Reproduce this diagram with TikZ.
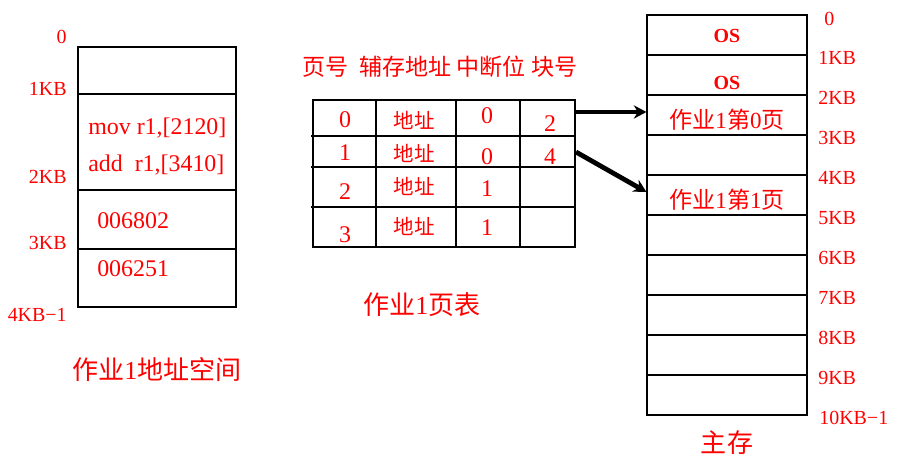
\documentclass[tikz,border=0pt]{standalone}
\usepackage{fontspec}
\setmainfont{Liberation Serif}
\newfontfamily\cjk{Noto Sans CJK SC}
\newcommand\hz[1]{{\cjk #1}}
\usetikzlibrary{arrows.meta}
\tikzset{
  >={Stealth[length=9pt,width=9.5pt]},
  frame/.style={draw=black, line width=0.8pt},
  blk/.style={frame, minimum width=4cm, minimum height=1cm, inner sep=0pt},
  lbl/.style={text=red, inner sep=0pt, font=\fontsize{14.2}{16}\selectfont},
  code/.style={text=red, inner sep=0pt, font=\fontsize{17}{19}\selectfont},
  zh/.style={text=red, inner sep=0pt, font=\fontsize{16.4}{18}\selectfont},
  title/.style={text=red, inner sep=0pt, font=\fontsize{18.5}{20}\selectfont},
  pointer/.style={->, line width=3.4pt},
}
\begin{document}
\begin{tikzpicture}[x=0.025cm,y=-0.025cm]
\useasboundingbox (0,0) rectangle (904,464);
% job 1 address space
\draw[frame] (78,47) rectangle (236,307);
\foreach \y in {94,190,249}
  \draw[frame] (78,\y) -- (236,\y);
\foreach \y/\t [count=\i] in {37/0,89/1KB,177/2KB,243/3KB,315/4KB−1}
  \node[lbl, anchor=east] (la\i) at (67,\y) {\t};
\node[code, anchor=west] (mov) at (88,128) {mov r1,[2120]};
\node[code, anchor=west] (add) at (88,165) {add\ \ r1,[3410]};
\node[code, anchor=west] (d1) at (97,221) {006802};
\node[code, anchor=west] (d2) at (97,269) {006251};
\node[title] (space) at (157,370) {\hz{作业}1\hz{地址空间}};

% page table
\node[zh] (head) at (440,67) {\hz{页号\ \ 辅存地址\ 中断位\ 块号}};
\draw[frame] (313,100) rectangle (575,247);
\foreach \x in {376,456,520}
  \draw[frame] (\x,100) -- (\x,247);
\foreach \y in {136,167,207}
  \draw[frame] (311,\y) -- (575,\y);
\foreach \y/\t [count=\i] in {120/0,153/1,192/2,235/3}
  \node[code] (pg\i) at (345,\y) {\t};
\foreach \y [count=\i] in {120,153,186,226}
  \node[zh, font=\fontsize{14.6}{16}\selectfont\cjk] (ad\i) at (414,\y) {地址};
\foreach \y/\t [count=\i] in {116/0,157/0,189/1,228/1}
  \node[code] (ib\i) at (487,\y) {\t};
\node[code] (bk1) at (550,124) {2};
\node[code] (bk2) at (550,157) {4};
\node[title] (ptab) at (422,305) {\hz{作业}1\hz{页表}};
\coordinate (p0) at (576,112);
\coordinate (p1) at (576,152);

% main memory
\foreach \i in {0,...,9}
  \node[blk] (m\i) at (727,35+40*\i) {};
\node[lbl, font=\fontsize{14.2}{16}\selectfont\bfseries] (os1) at (727,36) {OS};
\node[lbl, font=\fontsize{14.2}{16}\selectfont\bfseries] (os2) at (727,83) {OS};
\node[zh] (pg0) at (727,120) {\hz{作业}1\hz{第}0\hz{页}};
\node[zh] (pg1) at (727,200) {\hz{作业}1\hz{第}1\hz{页}};
\node[lbl, anchor=west] (ma0) at (824,19) {0};
\foreach \i in {1,...,9}
  \node[lbl, anchor=west] (ma\i) at (818,18+40*\i) {\i KB};
\node[lbl, anchor=west] (ma10) at (819,418) {10KB−1};
\node[title] (mem) at (727,443) {\hz{主存}};

\draw[pointer] (p0) -- (p0 -| m2.west);
\draw[pointer] (p1) -- ([yshift=0.075cm]m4.west);
\end{tikzpicture}
\end{document}
